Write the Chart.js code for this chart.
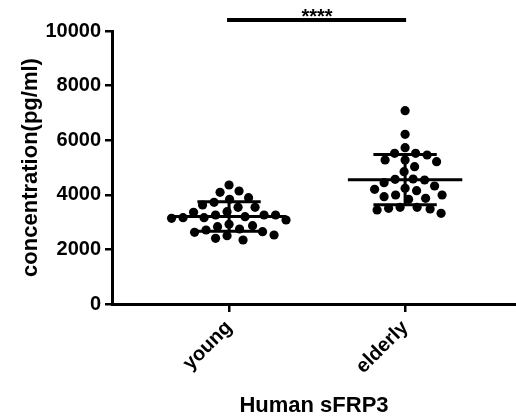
<!DOCTYPE html>
<html>
<head>
<meta charset="utf-8">
<script src="https://cdn.jsdelivr.net/npm/chart.js@4/dist/chart.umd.min.js"></script>
<style>
  html, body { margin: 0; padding: 0; background: #fff; }
  #wrap { width: 516px; height: 419px; }
</style>
</head>
<body>
<div id="wrap"><canvas id="chart"></canvas></div>
<script>
// data
const groups = ['young', 'elderly'];
const youngValues = [
  4359, 4139, 4091, 3894, 3833, 3725, 3626, 3542, 3542, 3381,
  3359, 3260, 3260, 3260, 3200, 3161, 3161, 3139, 3077, 2919,
  2868, 2832, 2747, 2711, 2648, 2626, 2527, 2502, 2407, 2344
];
const elderlyValues = [
  7081, 6216, 5725, 5520, 5520, 5458, 5275, 5275, 5212, 5029,
  4846, 4579, 4567, 4542, 4443, 4322, 4238, 4201, 4150, 3993,
  3993, 3930, 3871, 3833, 3542, 3542, 3505, 3480, 3443, 3322
];
const yTicks = [0, 2000, 4000, 6000, 8000, 10000];
const sigLabel = '****';

const FONT = '"Liberation Sans", Arial, sans-serif';
const allValues = [youngValues, elderlyValues];

const mean = a => a.reduce((s, v) => s + v, 0) / a.length;
const sd = a => {
  const m = mean(a);
  return Math.sqrt(a.reduce((s, v) => s + (v - m) * (v - m), 0) / (a.length - 1));
};

// mean line + SD whiskers, one dataset with gaps between segments
const summaryData = [];
allValues.forEach((vals, i) => {
  const m = mean(vals), s = sd(vals);
  summaryData.push({ x: i - 0.325, y: m }, { x: i + 0.325, y: m }, { x: NaN, y: NaN });
  summaryData.push({ x: i, y: m - s }, { x: i, y: m + s }, { x: NaN, y: NaN });
  summaryData.push({ x: i - 0.18, y: m + s }, { x: i + 0.18, y: m + s }, { x: NaN, y: NaN });
  summaryData.push({ x: i - 0.18, y: m - s }, { x: i + 0.18, y: m - s }, { x: NaN, y: NaN });
});

const pointData = allValues.map((vals, i) => vals.map(v => ({ x: i, y: v })));

// significance bar above the plot
const sigBar = {
  id: 'sigBar',
  afterDraw(chart) {
    const { ctx, scales: { x }, chartArea } = chart;
    const y = chartArea.top - 11;
    ctx.save();
    ctx.strokeStyle = '#000';
    ctx.lineWidth = 4;
    ctx.beginPath();
    ctx.moveTo(x.getPixelForValue(0) - 2, y);
    ctx.lineTo(x.getPixelForValue(1) + 1, y);
    ctx.stroke();
    ctx.fillStyle = '#000';
    ctx.font = 'bold 20px ' + FONT;
    ctx.textAlign = 'center';
    ctx.textBaseline = 'alphabetic';
    ctx.fillText(sigLabel, (x.getPixelForValue(0) + x.getPixelForValue(1)) / 2, y + 3);
    ctx.restore();
  }
};

const chart = new Chart(document.getElementById('chart').getContext('2d'), {
  type: 'scatter',
  data: {
    datasets: [
      {
        data: summaryData,
        showLine: true,
        spanGaps: false,
        borderColor: '#000',
        borderWidth: 3,
        pointRadius: 0
      },
      ...pointData.map(d => ({
        data: d,
        backgroundColor: '#000',
        borderColor: '#000',
        pointRadius: 4.6,
        pointBorderWidth: 0
      }))
    ]
  },
  options: {
    responsive: true,
    maintainAspectRatio: false,
    animation: false,
    layout: { autoPadding: false, padding: { top: 31, right: 0, left: 0, bottom: 0 } },
    plugins: { legend: { display: false }, tooltip: { enabled: false } },
    scales: {
      x: {
        type: 'linear',
        min: -0.665,
        max: 1.63,
        afterFit: s => { s.height = 115; s.paddingRight = 0; s.paddingLeft = 0; },
        afterBuildTicks: s => { s.ticks = groups.map((g, i) => ({ value: i })); },
        ticks: {
          callback: v => groups[v],
          color: '#000',
          font: { family: FONT, size: 20, weight: 'bold' },
          minRotation: 45,
          maxRotation: 45,
          padding: 4
        },
        grid: { drawOnChartArea: false, drawTicks: true, tickLength: 8, color: '#000', lineWidth: 2.5 },
        border: { display: true, color: '#000', width: 3 },
        title: {
          display: true,
          text: 'Human sFRP3',
          color: '#000',
          font: { family: FONT, size: 22, weight: 'bold' },
          padding: { top: 0, bottom: 0 }
        }
      },
      y: {
        min: 0,
        max: 10000,
        afterFit: s => { s.width = 112; },
        afterBuildTicks: s => { s.ticks = yTicks.map(v => ({ value: v })); },
        ticks: {
          callback: v => String(v),
          color: '#000',
          font: { family: FONT, size: 20, weight: 'bold' },
          padding: 4
        },
        grid: { drawOnChartArea: false, drawTicks: true, tickLength: 7, color: '#000', lineWidth: 2.5 },
        border: { display: true, color: '#000', width: 3 },
        title: {
          display: true,
          text: 'concentration(pg/ml)',
          color: '#000',
          font: { family: FONT, size: 22, weight: 'bold' },
          padding: { top: 18, bottom: 0 }
        }
      }
    }
  },
  plugins: [sigBar]
});

// spread the dots sideways (beeswarm) so they do not overlap
function swarm() {
  const xs = chart.scales.x, ys = chart.scales.y;
  const pxPerX = xs.getPixelForValue(1) - xs.getPixelForValue(0);
  const minDist = 11.5;
  allValues.forEach((vals, gi) => {
    const placed = [];
    const order = vals.map((v, i) => i).sort((a, b) => vals[b] - vals[a]);
    order.forEach(idx => {
      const py = ys.getPixelForValue(vals[idx]);
      let best = 0;
      for (let k = 0; k < 200; k++) {
        const cands = k === 0 ? [0] : [k * 0.5, -k * 0.5];
        let ok = null;
        for (const c of cands) {
          if (placed.every(p => Math.hypot(p.x - c, p.y - py) >= minDist)) { ok = c; break; }
        }
        if (ok !== null) { best = ok; break; }
      }
      placed.push({ x: best, y: py });
      pointData[gi][idx].x = gi + best / pxPerX;
    });
  });
  chart.update('none');
}
swarm();
</script>
</body>
</html>
